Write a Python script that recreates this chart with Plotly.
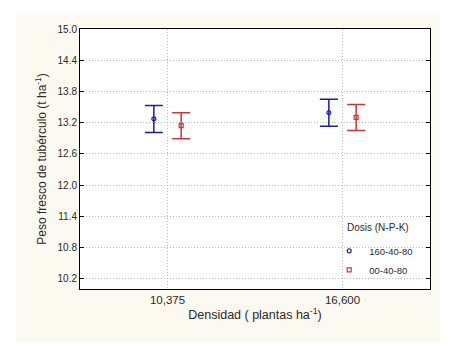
import numpy as np
import plotly.graph_objects as go

categories = ["10,375", "16,600"]
series_names = ["160-40-80", "00-40-80"]
blue_mean = [13.27, 13.39]
blue_err = [0.26, 0.26]
red_mean = [13.14, 13.30]
red_err = [0.25, 0.25]
y_ticks = [10.2, 10.8, 11.4, 12.0, 12.6, 13.2, 13.8, 14.4, 15.0]

BLUE = "#1c1ca0"
RED = "#c83838"
FONT = "Liberation Sans, Arial, sans-serif"

idx = np.arange(len(categories))
offset = 0.078

fig = go.Figure()
fig.add_trace(go.Scatter(
    x=idx - offset, y=blue_mean, mode="markers", name=series_names[0],
    marker=dict(symbol="circle-open", size=4, color=BLUE, line=dict(width=1.2, color=BLUE)),
    error_y=dict(type="data", array=blue_err, color=BLUE, thickness=1.5, width=9),
))
fig.add_trace(go.Scatter(
    x=idx + offset, y=red_mean, mode="markers", name=series_names[1],
    marker=dict(symbol="square-open", size=4, color=RED, line=dict(width=1.2, color=RED)),
    error_y=dict(type="data", array=red_err, color=RED, thickness=1.5, width=9),
))

# page body has an 8px margin: figure is placed at (8, 8)
fig.update_layout(
    width=435, height=336,
    margin=dict(l=72, r=13, t=21, b=55),
    paper_bgcolor="white", plot_bgcolor="white",
    font=dict(family=FONT, size=10, color="#2a2a2a"),
    showlegend=True,
    legend=dict(
        x=0.712, y=0.11, xanchor="left", yanchor="middle",
        bgcolor="rgba(0,0,0,0)", font=dict(size=9.5),
        itemwidth=30, tracegroupgap=0,
    ),
    annotations=[
        dict(text="Dosis (N-P-K)", xref="paper", yref="paper", x=0.757, y=0.235,
             xanchor="left", yanchor="middle", showarrow=False, font=dict(size=10)),
    ],
    shapes=[
        dict(type="rect", xref="paper", yref="paper", x0=-0.183, x1=1.029, y0=-0.204, y1=1.054,
             fillcolor="#fcf9f0", line=dict(width=0), layer="below"),
        dict(type="rect", xref="paper", yref="paper", x0=0, x1=1, y0=0, y1=1,
             fillcolor="white", line=dict(width=0), layer="below"),
    ],
)
fig.update_xaxes(
    range=[-0.5, 1.5], tickvals=idx, ticktext=categories,
    showgrid=True, gridcolor="#b8b8b8", griddash="1px,2px", gridwidth=1,
    showline=True, linecolor="black", linewidth=1, mirror=True,
    ticks="", zeroline=False, tickfont=dict(size=11.5),
    title=dict(text="Densidad ( plantas ha<sup>-1</sup>)", font=dict(size=12.5), standoff=5),
)
fig.update_yaxes(
    range=[10.0, 15.0], tickvals=y_ticks, ticktext=[f"{v:.1f}" for v in y_ticks],
    showgrid=True, gridcolor="#b8b8b8", griddash="1px,2px", gridwidth=1,
    showline=True, linecolor="black", linewidth=1, mirror="ticks",
    ticks="inside", ticklen=4, tickcolor="black", zeroline=False, tickfont=dict(size=10),
    title=dict(text="Peso fresco de tubérculo (t ha<sup>-1</sup>)", font=dict(size=12), standoff=8),
)

fig.write_html("out.html")
